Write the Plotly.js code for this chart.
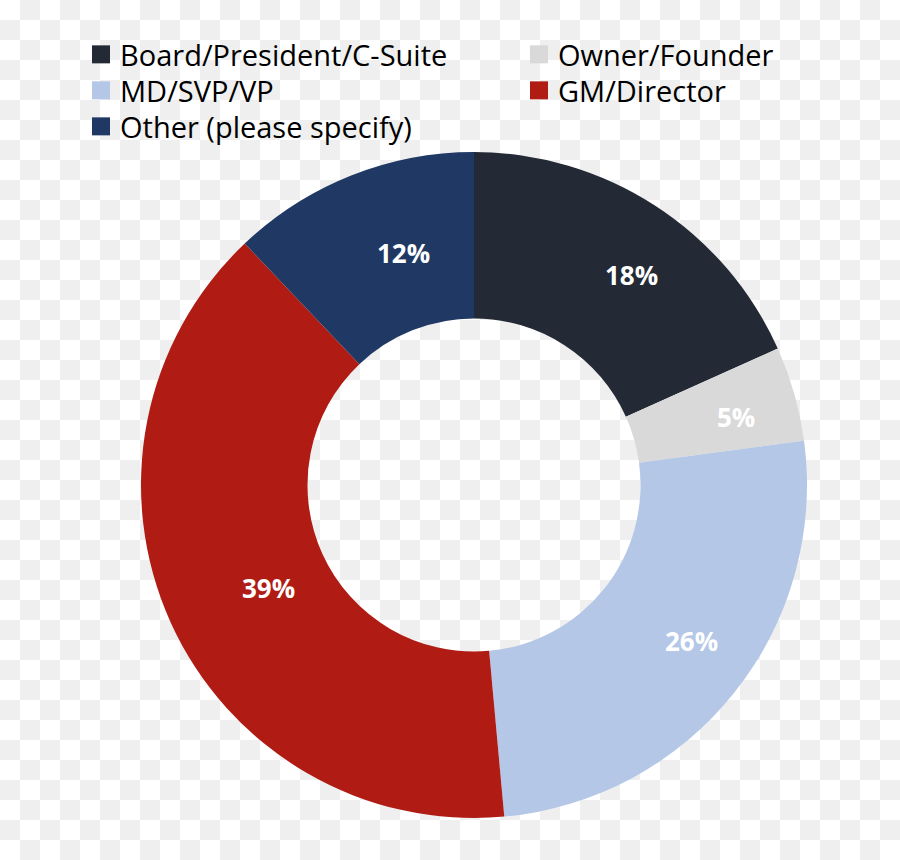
<!DOCTYPE html>
<html>
<head>
<meta charset="utf-8">
<script src="https://cdn.plot.ly/plotly-3.0.1.min.js"></script>
<style>
html,body{margin:0;padding:0;}
body{width:900px;height:860px;background-color:#fff;
background-image:conic-gradient(#efefef 0 25%, #ffffff 0 50%, #efefef 0 75%, #ffffff 0);
background-size:40px 40px;background-position:0 0;}
#chart{width:900px;height:860px;}
</style>
</head>
<body>
<div id="chart"></div>
<script>
const labels = ["Board/President/C-Suite", "Owner/Founder", "MD/SVP/VP", "GM/Director", "Other (please specify)"];
const values = [18.3, 4.6, 25.7, 39.4, 12.1];
const colors = ["#232a36", "#d9d9d9", "#b4c7e7", "#b01c13", "#1f3864"];

// geometry (pixels)
const W = 900, H = 860;
const CX = 474, CY = 485, R = 333, HOLE = 0.5;
const LABEL_SHIFT = 22;

const total = values.reduce((a, b) => a + b, 0);
const annotations = [];
let cum = 0;
values.forEach(function(v, i) {
  const mid = (cum + v / 2) / total * 2 * Math.PI;
  cum += v;
  const rm = R * (1 + HOLE) / 2;
  const px = CX + rm * Math.sin(mid);
  const py = CY - rm * Math.cos(mid);
  annotations.push({
    xref: "paper", yref: "paper",
    x: px / W, y: 1 - py / H,
    xanchor: "center", yanchor: "middle",
    xshift: LABEL_SHIFT,
    text: Math.round(v / total * 100) + "%",
    showarrow: false,
    font: {family: "Open Sans, sans-serif", size: 26, color: "#ffffff", weight: "bold"}
  });
});

const data = [{
  type: "pie",
  labels: labels,
  values: values,
  hole: HOLE,
  sort: false,
  direction: "clockwise",
  rotation: 0,
  marker: {colors: colors, line: {width: 0}},
  textinfo: "none",
  domain: {x: [(CX - R) / W, (CX + R) / W], y: [(H - CY - R) / H, (H - CY + R) / H]},
  hoverinfo: "skip"
}];

const layout = {
  width: W, height: H,
  margin: {l: 0, r: 0, t: 0, b: 0},
  paper_bgcolor: "rgba(0,0,0,0)",
  plot_bgcolor: "rgba(0,0,0,0)",
  showlegend: true,
  annotations: annotations,
  legend: {
    orientation: "v",
    x: 80 / W, xanchor: "left",
    y: 1 - 29 / H, yanchor: "top",
    font: {family: "Open Sans, sans-serif", size: 29, color: "#000000"},
    bgcolor: "rgba(0,0,0,0)",
    itemclick: false
  }
};

Plotly.newPlot("chart", data, layout, {displayModeBar: false, staticPlot: true}).then(function(gd){
  document.querySelectorAll("#chart .legend [clip-path]").forEach(function(e){ e.removeAttribute("clip-path"); });
  document.querySelectorAll("#chart .legendpoints path").forEach(function(p){
    p.setAttribute("transform", "translate(21,0) scale(1.5)");
  });
  const items = document.querySelectorAll("#chart .legend g.traces");
  let y0 = null;
  items.forEach(function(g, i){
    const m = /translate\(\s*([-\d.]+)[ ,]+([-\d.]+)\s*\)/.exec(g.getAttribute("transform") || "");
    if (!m) return;
    if (y0 === null) y0 = parseFloat(m[2]);
    const col = i % 2, row = Math.floor(i / 2);
    g.setAttribute("transform", "translate(" + (parseFloat(m[1]) + col * 438) + "," + (y0 + row * 36) + ")");
  });
});
</script>
</body>
</html>
